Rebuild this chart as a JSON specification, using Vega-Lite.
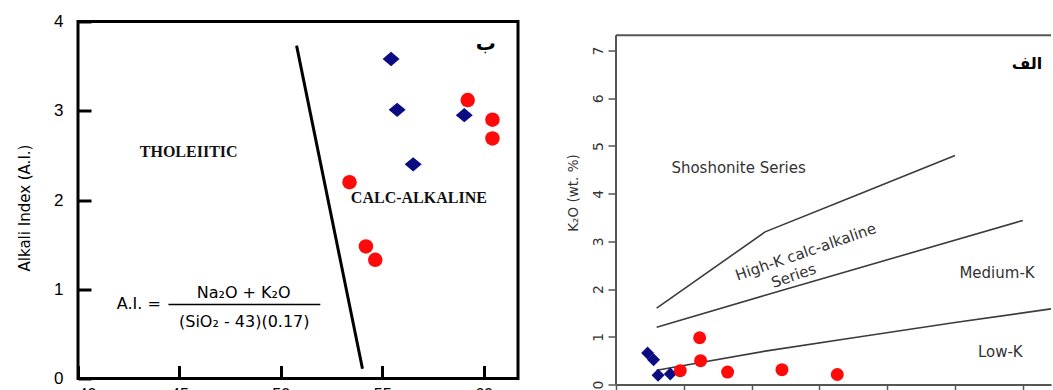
{
  "$schema": "https://vega.github.io/schema/vega-lite/v6.json",
  "padding": {"left": 15, "top": 10.5, "right": 0, "bottom": 0},
  "spacing": 46,
  "config": {"axis": {"grid": false}, "view": {"stroke": null}},
  "datasets": {
    "aiBlue": [
      {"sio2": 55.44, "ai": 3.58}, {"sio2": 55.74, "ai": 3.01}, {"sio2": 56.53, "ai": 2.40}, {"sio2": 59.05, "ai": 2.95}
    ],
    "aiRed": [
      {"sio2": 59.22, "ai": 3.12}, {"sio2": 60.44, "ai": 2.90}, {"sio2": 60.44, "ai": 2.69},
      {"sio2": 53.39, "ai": 2.20}, {"sio2": 54.2, "ai": 1.48}, {"sio2": 54.66, "ai": 1.33}
    ],
    "divider": [{"sio2": 50.78, "ai": 3.73}, {"sio2": 54.03, "ai": 0.11}],
    "fracBar": [{"x1": 44.46, "x2": 51.95, "ai": 0.83}],
    "leftSerif": [
      {"sio2": 45.46, "ai": 2.54, "label": "THOLEIITIC"},
      {"sio2": 56.81, "ai": 2.02, "label": "CALC-ALKALINE"}
    ],
    "leftFormula": [
      {"sio2": 43.0, "ai": 0.836, "label": "A.I. ="},
      {"sio2": 48.17, "ai": 0.96, "label": "Na₂O + K₂O"},
      {"sio2": 48.2, "ai": 0.63, "label": "(SiO₂ - 43)(0.17)"}
    ],
    "leftTag": [{"sio2": 60.11, "ai": 3.75, "label": "ب"}],
    "kBlue": [
      {"sio2": 47.33, "k2o": 0.66}, {"sio2": 47.77, "k2o": 0.52}, {"sio2": 48.1, "k2o": 0.195}, {"sio2": 49.0, "k2o": 0.22}
    ],
    "kRed": [
      {"sio2": 49.74, "k2o": 0.29}, {"sio2": 51.17, "k2o": 0.98}, {"sio2": 51.24, "k2o": 0.50},
      {"sio2": 53.23, "k2o": 0.26}, {"sio2": 57.24, "k2o": 0.31}, {"sio2": 61.32, "k2o": 0.21}
    ],
    "bounds": [
      {"line": "sho", "sio2": 48, "k2o": 1.6}, {"line": "sho", "sio2": 56, "k2o": 3.2}, {"line": "sho", "sio2": 63, "k2o": 4.0}, {"line": "sho", "sio2": 70, "k2o": 4.8},
      {"line": "hk", "sio2": 48, "k2o": 1.2}, {"line": "hk", "sio2": 56, "k2o": 1.87}, {"line": "hk", "sio2": 75, "k2o": 3.44},
      {"line": "lk", "sio2": 48, "k2o": 0.3}, {"line": "lk", "sio2": 56, "k2o": 0.7}, {"line": "lk", "sio2": 63, "k2o": 1.0}, {"line": "lk", "sio2": 70, "k2o": 1.3}, {"line": "lk", "sio2": 77.08, "k2o": 1.585}
    ],
    "frame": [
      {"x1": 45, "x2": 77.08, "y1": 7.32, "y2": 7.32},
      {"x1": 45, "x2": 45, "y1": 0, "y2": 7.32}
    ],
    "rightText": [
      {"sio2": 54.04, "k2o": 4.54, "label": "Shoshonite Series"},
      {"sio2": 73.1, "k2o": 2.34, "label": "Medium-K"},
      {"sio2": 73.34, "k2o": 0.68, "label": "Low-K"}
    ],
    "rightAngled": [
      {"sio2": 59.0, "k2o": 2.78, "label": "High-K calc-alkaline"},
      {"sio2": 58.1, "k2o": 2.28, "label": "Series"}
    ],
    "rightTag": [{"sio2": 75.31, "k2o": 6.71, "label": "الف"}]
  },
  "hconcat": [
    {
      "width": 440,
      "height": 357,
      "view": {"stroke": "black", "strokeWidth": 3},
      "layer": [
        {
          "data": {"name": "divider"},
          "mark": {"type": "line", "color": "black", "strokeWidth": 3},
          "encoding": {
            "x": {"field": "sio2", "type": "quantitative", "scale": {"domain": [40, 61.7], "nice": false, "zero": false},
              "axis": {"values": [40, 45, 50, 55, 60], "tickSize": -13, "tickWidth": 3, "tickColor": "black", "domain": false,
                "labelFont": "Liberation Sans", "labelFontSize": 16, "labelColor": "black", "labelPadding": 21, "title": null}},
            "y": {"field": "ai", "type": "quantitative", "scale": {"domain": [0, 4], "nice": false, "zero": false},
              "axis": {"values": [0, 1, 2, 3, 4], "format": "d", "tickSize": -13, "tickWidth": 3, "tickColor": "black", "domain": false,
                "labelFont": "Liberation Sans", "labelFontSize": 17, "labelColor": "black", "labelPadding": 28,
                "title": "Alkali Index (A.I.)", "titleFont": "DejaVu Sans", "titleFontSize": 15, "titleFontWeight": "normal",
                "titleColor": "black", "titleX": -46, "titleY": 186}}
          }
        },
        {
          "data": {"name": "fracBar"},
          "mark": {"type": "rule", "color": "black", "strokeWidth": 1.5},
          "encoding": {
            "x": {"field": "x1", "type": "quantitative"},
            "x2": {"field": "x2"},
            "y": {"field": "ai", "type": "quantitative"}
          }
        },
        {
          "data": {"name": "aiBlue"},
          "mark": {"type": "point", "filled": true, "opacity": 1, "color": "#0b0b82", "shape": "M-1,0L0,-0.84L1,0L0,0.84Z", "size": 289},
          "encoding": {"x": {"field": "sio2", "type": "quantitative"}, "y": {"field": "ai", "type": "quantitative"}}
        },
        {
          "data": {"name": "aiRed"},
          "mark": {"type": "point", "filled": true, "opacity": 1, "color": "#ff0a0a", "shape": "circle", "size": 210},
          "encoding": {"x": {"field": "sio2", "type": "quantitative"}, "y": {"field": "ai", "type": "quantitative"}}
        },
        {
          "data": {"name": "leftSerif"},
          "mark": {"type": "text", "font": "Liberation Serif", "fontWeight": "bold", "fontSize": 16, "color": "#111", "baseline": "middle", "align": "center"},
          "encoding": {"x": {"field": "sio2", "type": "quantitative"}, "y": {"field": "ai", "type": "quantitative"}, "text": {"field": "label"}}
        },
        {
          "data": {"name": "leftFormula"},
          "mark": {"type": "text", "font": "DejaVu Sans", "fontSize": 16, "color": "black", "baseline": "middle", "align": "center"},
          "encoding": {"x": {"field": "sio2", "type": "quantitative"}, "y": {"field": "ai", "type": "quantitative"}, "text": {"field": "label"}}
        },
        {
          "data": {"name": "leftTag"},
          "mark": {"type": "text", "font": "DejaVu Sans", "fontWeight": "bold", "fontSize": 20, "color": "black", "baseline": "middle", "align": "center"},
          "encoding": {"x": {"field": "sio2", "type": "quantitative"}, "y": {"field": "ai", "type": "quantitative"}, "text": {"field": "label"}}
        }
      ]
    },
    {
      "width": 435,
      "height": 363,
      "layer": [
        {
          "data": {"name": "bounds"},
          "mark": {"type": "line", "color": "#3c3c3c", "strokeWidth": 1.6, "clip": true},
          "encoding": {
            "x": {"field": "sio2", "type": "quantitative", "scale": {"domain": [45, 77.08], "nice": false, "zero": false},
              "axis": {"values": [45, 50, 55, 60, 65, 70, 75], "tickSize": 8, "tickWidth": 1.5, "tickColor": "#555",
                "domainColor": "#555", "domainWidth": 2, "labelFont": "DejaVu Sans", "labelFontSize": 14, "labelColor": "#333",
                "labelPadding": 4, "title": null}},
            "y": {"field": "k2o", "type": "quantitative", "scale": {"domain": [0, 7.61], "nice": false, "zero": false},
              "axis": {"values": [0, 1, 2, 3, 4, 5, 6, 7], "tickSize": 8, "tickWidth": 1.5, "tickColor": "#555",
                "domain": false, "labelFont": "DejaVu Sans", "labelFontSize": 14, "labelColor": "#333",
                "labelAngle": -90, "labelPadding": 3,
                "title": "K₂O (wt. %)", "titleFont": "DejaVu Sans", "titleFontSize": 13.5, "titleFontWeight": "normal",
                "titleColor": "#333", "titleX": -36, "titleY": 171}},
            "detail": {"field": "line", "type": "nominal"}
          }
        },
        {
          "data": {"name": "frame"},
          "mark": {"type": "rule", "color": "#555", "strokeWidth": 2},
          "encoding": {
            "x": {"field": "x1", "type": "quantitative"},
            "x2": {"field": "x2"},
            "y": {"field": "y1", "type": "quantitative"},
            "y2": {"field": "y2"}
          }
        },
        {
          "data": {"name": "kBlue"},
          "mark": {"type": "point", "filled": true, "opacity": 1, "color": "#0b0b82", "shape": "diamond", "size": 169},
          "encoding": {"x": {"field": "sio2", "type": "quantitative"}, "y": {"field": "k2o", "type": "quantitative"}}
        },
        {
          "data": {"name": "kRed"},
          "mark": {"type": "point", "filled": true, "opacity": 1, "color": "#ff0a0a", "shape": "circle", "size": 169},
          "encoding": {"x": {"field": "sio2", "type": "quantitative"}, "y": {"field": "k2o", "type": "quantitative"}}
        },
        {
          "data": {"name": "rightText"},
          "mark": {"type": "text", "font": "DejaVu Sans", "fontSize": 15, "color": "#333", "baseline": "middle", "align": "center"},
          "encoding": {"x": {"field": "sio2", "type": "quantitative"}, "y": {"field": "k2o", "type": "quantitative"}, "text": {"field": "label"}}
        },
        {
          "data": {"name": "rightAngled"},
          "mark": {"type": "text", "font": "DejaVu Sans", "fontSize": 15, "color": "#333", "baseline": "middle", "align": "center", "angle": -19},
          "encoding": {"x": {"field": "sio2", "type": "quantitative"}, "y": {"field": "k2o", "type": "quantitative"}, "text": {"field": "label"}}
        },
        {
          "data": {"name": "rightTag"},
          "mark": {"type": "text", "font": "DejaVu Sans", "fontWeight": "bold", "fontSize": 16, "color": "black", "baseline": "middle", "align": "center"},
          "encoding": {"x": {"field": "sio2", "type": "quantitative"}, "y": {"field": "k2o", "type": "quantitative"}, "text": {"field": "label"}}
        }
      ]
    }
  ]
}
